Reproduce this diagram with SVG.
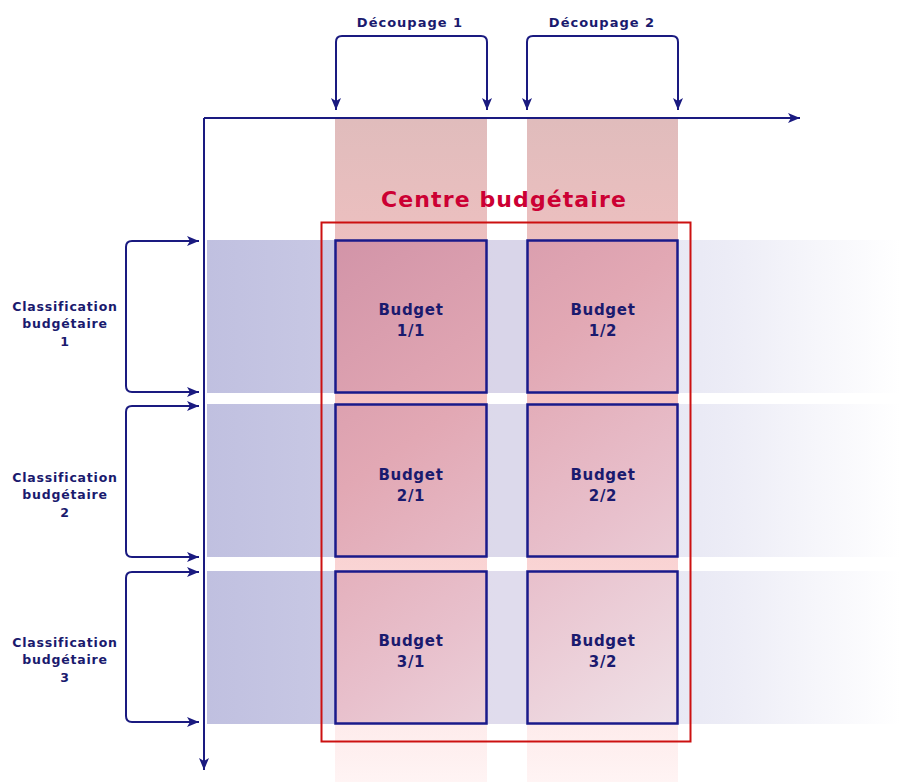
<svg xmlns="http://www.w3.org/2000/svg" width="900" height="782" viewBox="0 0 900 782">
<defs>
<linearGradient id="colG" x1="0" y1="119" x2="0" y2="782" gradientUnits="userSpaceOnUse">
<stop offset="0" stop-color="#e0bcbc"/>
<stop offset="0.2" stop-color="#eec0c0"/>
<stop offset="0.45" stop-color="#f7c2c2"/>
<stop offset="0.7" stop-color="#fad6d6"/>
<stop offset="1" stop-color="#fff4f4"/>
</linearGradient>
<linearGradient id="rowG" x1="207" y1="0" x2="900" y2="0" gradientUnits="userSpaceOnUse">
<stop offset="0" stop-color="#c0c0e0"/>
<stop offset="0.18" stop-color="#c8c8e4"/>
<stop offset="0.45" stop-color="#dcdcee"/>
<stop offset="0.75" stop-color="#ececf6"/>
<stop offset="1" stop-color="#ffffff"/>
</linearGradient>
<linearGradient id="boxG" x1="335" y1="240" x2="678" y2="724" gradientUnits="userSpaceOnUse">
<stop offset="0" stop-color="#d294a8"/>
<stop offset="0.35" stop-color="#e2a8b4"/>
<stop offset="0.65" stop-color="#e8c0cc"/>
<stop offset="1" stop-color="#f0e2e8"/>
</linearGradient>
<marker id="ah" viewBox="0 0 12 10" refX="12" refY="5" markerWidth="12" markerHeight="10" markerUnits="userSpaceOnUse" orient="auto">
<path d="M0,0 L12,5 L0,10 L3,5 Z" fill="#1a1a80"/>
</marker>
</defs>
<style>
.lbl{font-family:"DejaVu Sans",Verdana,sans-serif;font-weight:bold;fill:#1a1a6e;text-anchor:middle}
.dc{font-size:13px;letter-spacing:1px}
.cl{font-size:12.5px;letter-spacing:0.8px}
.bd{font-size:15px;letter-spacing:0.7px}
.ax{stroke:#1a1a80;stroke-width:2;fill:none}
.box{stroke:#1a1a8a;stroke-width:2.5;fill:url(#boxG)}
</style>
<rect width="900" height="782" fill="#ffffff"/>
<g id="bands">
<rect x="335" y="119" width="152" height="663" fill="url(#colG)"/>
<rect x="527" y="119" width="151" height="663" fill="url(#colG)"/>
<rect x="207" y="240" width="693" height="153" fill="url(#rowG)"/>
<rect x="207" y="404" width="693" height="153" fill="url(#rowG)"/>
<rect x="207" y="571" width="693" height="153" fill="url(#rowG)"/>
<rect x="487" y="240" width="40" height="153" fill="#d8d4e8" opacity="0.9"/>
<rect x="487" y="404" width="40" height="153" fill="#dcd8ea" opacity="0.9"/>
<rect x="487" y="571" width="40" height="153" fill="#e0dcec" opacity="0.9"/>
</g>
<g id="connectors">
<path class="ax" d="M204,118 H800" marker-end="url(#ah)"/>
<path class="ax" d="M204,118 V770" marker-end="url(#ah)"/>
<path class="ax" d="M336,100 V42 Q336,36 342,36 H481 Q487,36 487,42 V100"/>
<path class="ax" d="M336,98 V110" marker-end="url(#ah)"/>
<path class="ax" d="M487,98 V110" marker-end="url(#ah)"/>
<path class="ax" d="M527,100 V42 Q527,36 533,36 H672 Q678,36 678,42 V100"/>
<path class="ax" d="M527,98 V110" marker-end="url(#ah)"/>
<path class="ax" d="M678,98 V110" marker-end="url(#ah)"/>
<path class="ax" d="M190,241 H132 Q126,241 126,247 V386 Q126,392 132,392 H190"/>
<path class="ax" d="M188,241 H199" marker-end="url(#ah)"/>
<path class="ax" d="M188,392 H199" marker-end="url(#ah)"/>
<path class="ax" d="M190,406 H132 Q126,406 126,412 V551 Q126,557 132,557 H190"/>
<path class="ax" d="M188,406 H199" marker-end="url(#ah)"/>
<path class="ax" d="M188,557 H199" marker-end="url(#ah)"/>
<path class="ax" d="M190,572 H132 Q126,572 126,578 V716 Q126,722 132,722 H190"/>
<path class="ax" d="M188,572 H199" marker-end="url(#ah)"/>
<path class="ax" d="M188,722 H199" marker-end="url(#ah)"/>
</g>
<g id="centre">
<rect x="321.5" y="222.5" width="369" height="519" fill="none" stroke="#cc1010" stroke-width="2"/>
<text x="504" y="207" font-family="DejaVu Sans,Verdana,sans-serif" font-weight="bold" font-size="22" letter-spacing="1.1" fill="#cc0033" text-anchor="middle">Centre budgétaire</text>
</g>
<g id="b11"><rect class="box" x="335.5" y="240.5" width="151" height="152"/><text class="lbl bd" x="411" y="315">Budget</text><text class="lbl bd" x="411" y="336">1/1</text></g>
<g id="b12"><rect class="box" x="527.5" y="240.5" width="150" height="152"/><text class="lbl bd" x="603" y="315">Budget</text><text class="lbl bd" x="603" y="336">1/2</text></g>
<g id="b21"><rect class="box" x="335.5" y="404.5" width="151" height="152"/><text class="lbl bd" x="411" y="480">Budget</text><text class="lbl bd" x="411" y="501">2/1</text></g>
<g id="b22"><rect class="box" x="527.5" y="404.5" width="150" height="152"/><text class="lbl bd" x="603" y="480">Budget</text><text class="lbl bd" x="603" y="501">2/2</text></g>
<g id="b31"><rect class="box" x="335.5" y="571.5" width="151" height="152"/><text class="lbl bd" x="411" y="646">Budget</text><text class="lbl bd" x="411" y="667">3/1</text></g>
<g id="b32"><rect class="box" x="527.5" y="571.5" width="150" height="152"/><text class="lbl bd" x="603" y="646">Budget</text><text class="lbl bd" x="603" y="667">3/2</text></g>
<g id="d1"><text class="lbl dc" x="410" y="27">Découpage 1</text></g>
<g id="d2"><text class="lbl dc" x="602" y="27">Découpage 2</text></g>
<g id="c1"><text class="lbl cl" x="65" y="311">Classification</text><text class="lbl cl" x="65" y="328">budgétaire</text><text class="lbl cl" x="65" y="346">1</text></g>
<g id="c2"><text class="lbl cl" x="65" y="482">Classification</text><text class="lbl cl" x="65" y="499">budgétaire</text><text class="lbl cl" x="65" y="517">2</text></g>
<g id="c3"><text class="lbl cl" x="65" y="647">Classification</text><text class="lbl cl" x="65" y="664">budgétaire</text><text class="lbl cl" x="65" y="682">3</text></g>
</svg>
